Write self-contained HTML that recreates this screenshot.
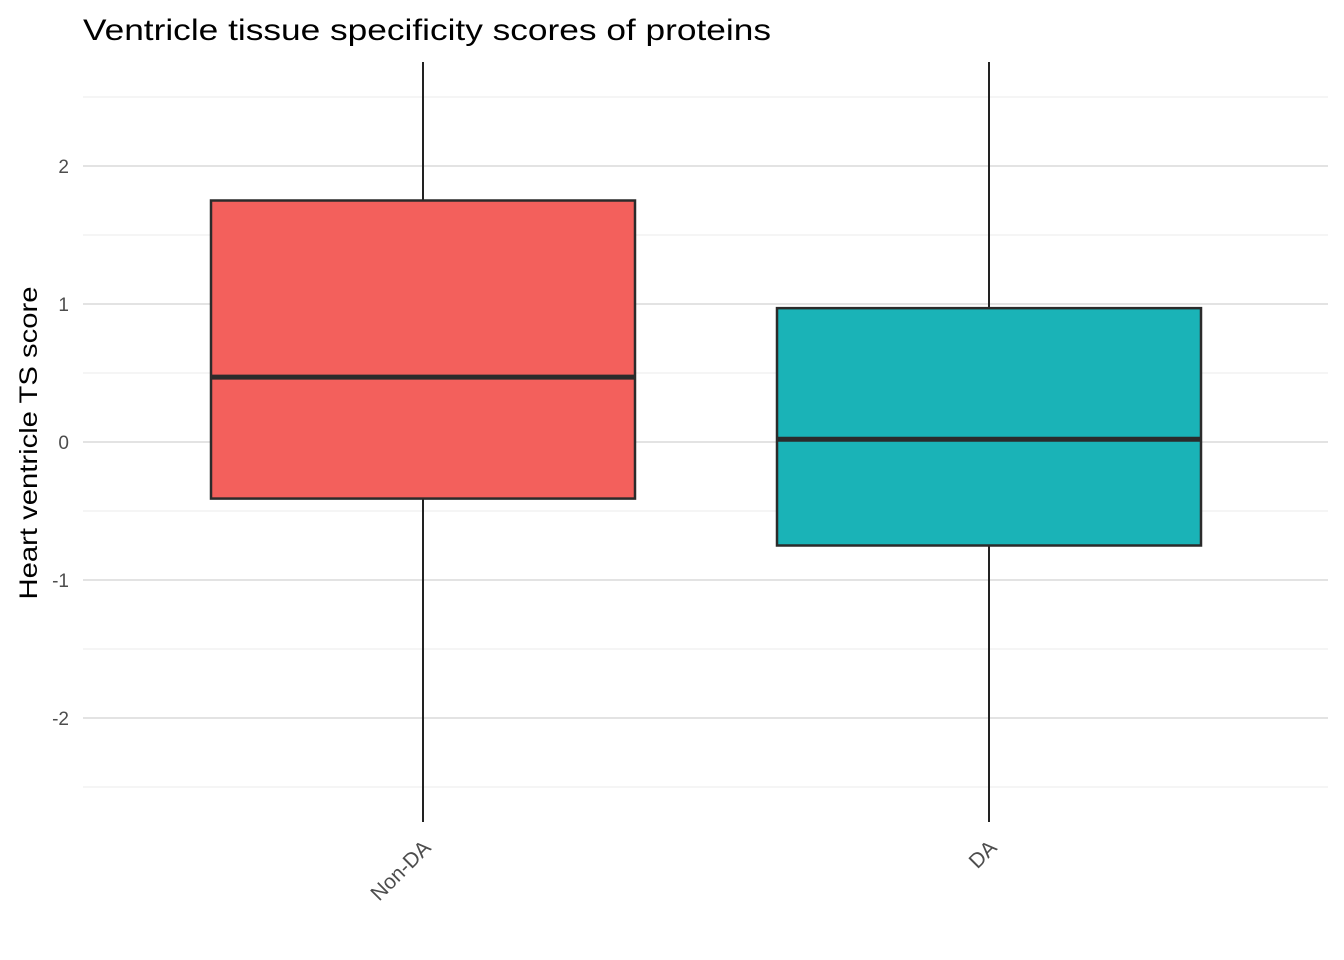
<!DOCTYPE html>
<html><head><meta charset="utf-8"><style>
body{margin:0;background:#fff;}
svg{display:block;font-family:"Liberation Sans",Arial,sans-serif;}
</style></head><body>
<svg id="chart" width="1344" height="960" viewBox="0 0 1344 960">
<text x="83" y="40" font-size="30" textLength="688" lengthAdjust="spacingAndGlyphs" fill="#000">Ventricle tissue specificity scores of proteins</text>
<text transform="translate(37,443) rotate(-90)" text-anchor="middle" font-size="25" textLength="313" lengthAdjust="spacingAndGlyphs" fill="#000">Heart ventricle TS score</text>
<g id="grid"></g>
<defs><clipPath id="panel"><rect x="83" y="62" width="1245" height="760"/></clipPath></defs>
<g id="boxes" clip-path="url(#panel)"></g>
<g id="labels"></g>
</svg>
<script>
const categories = ["Non-DA", "DA"];
const q1 = [-0.41, -0.75];
const median = [0.47, 0.02];
const q3 = [1.75, 0.97];
const whiskerLow = [-3.5, -3.5];
const whiskerHigh = [3.5, 3.5];
const colors = ["#F3605C", "#1AB3B7"];
const yTicks = [-2, -1, 0, 1, 2];
const yMinor = [-2.5, -1.5, -0.5, 0.5, 1.5, 2.5];

const NS = "http://www.w3.org/2000/svg";
const y = v => 442 - v * 138;
const x = i => 423 + i * 566;
const halfW = 212;
function mk(tag, attrs, parent){const e=document.createElementNS(NS,tag);for(const k in attrs)e.setAttribute(k,attrs[k]);parent.appendChild(e);return e;}
const grid=document.getElementById('grid'), boxes=document.getElementById('boxes'), labels=document.getElementById('labels');
yMinor.forEach(v=>{const l=mk('line',{x1:83,x2:1328,y1:y(v),y2:y(v),stroke:'#ebebeb','stroke-width':1},grid);

});
yTicks.forEach(v=>{const l=mk('line',{x1:83,x2:1328,y1:y(v),y2:y(v),stroke:'#e3e3e3','stroke-width':2},grid);


const t=mk('text',{x:69,y:y(v)+7,'text-anchor':'end','font-size':19,fill:'#4d4d4d'},labels);t.textContent=v;

});
categories.forEach((c,i)=>{
const cx=x(i);
const w=mk('line',{x1:cx,x2:cx,y1:y(whiskerHigh[i]),y2:y(whiskerLow[i]),stroke:'#222','stroke-width':2},boxes);


const r=mk('rect',{x:cx-halfW,y:y(q3[i]),width:halfW*2,height:y(q1[i])-y(q3[i]),fill:colors[i],stroke:'#2b2b2b','stroke-width':2.5},boxes);


const m=mk('line',{x1:cx-halfW,x2:cx+halfW,y1:y(median[i]),y2:y(median[i]),stroke:'#2b2b2b','stroke-width':5},boxes);


const t=mk('text',{transform:`translate(${cx+9},${849}) rotate(-45)`,'text-anchor':'end','font-size':21,fill:'#4d4d4d'},labels);t.textContent=c;


});
</script>
</body></html>
